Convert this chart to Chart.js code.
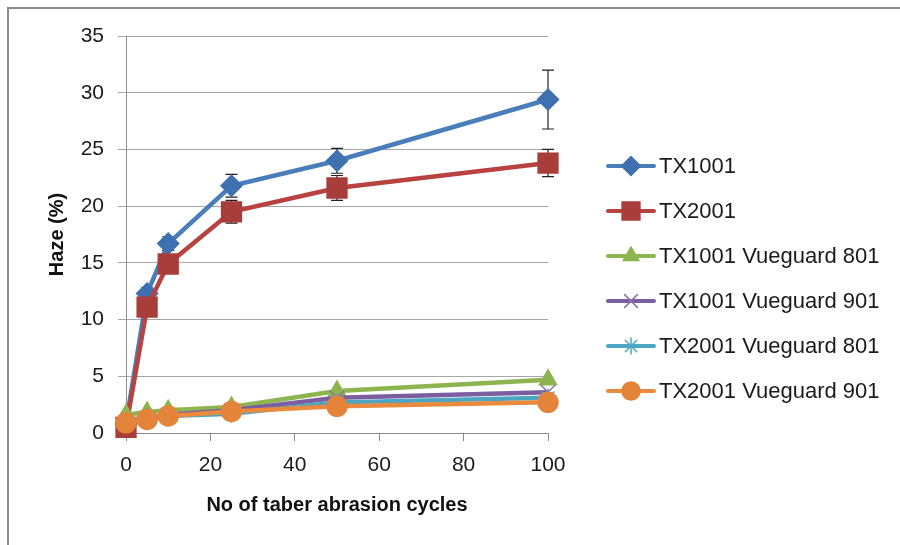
<!DOCTYPE html>
<html>
<head>
<meta charset="utf-8">
<script src="https://cdn.jsdelivr.net/npm/chart.js@4"></script>
<style>
  html, body { margin: 0; padding: 0; background: #fff; }
  #wrap { width: 900px; height: 545px; position: relative; }
</style>
</head>
<body>
<div id="wrap"><canvas id="hazeChart"></canvas></div>
<script>
// abrasion cycles
const cycles = [0, 5, 10, 25, 50, 100];

// haze (%) per sample
const tx1001 = [0.8, 12.3, 16.7, 21.8, 24.0, 29.4];
const tx2001 = [0.5, 11.1, 14.9, 19.5, 21.6, 23.8];
const tx1001v801 = [1.6, 1.85, 2.0, 2.3, 3.7, 4.7];
const tx1001v901 = [0.8, 1.3, 1.6, 2.0, 3.1, 3.6];
const tx2001v801 = [1.0, 1.4, 1.5, 1.7, 2.7, 3.1];
const tx2001v901 = [0.9, 1.2, 1.5, 1.9, 2.35, 2.7];

// standard deviation (error bars)
const tx1001Err = [0, 0.5, 0.6, 1.0, 1.1, 2.6];
const tx2001Err = [0, 0.4, 0.5, 1.0, 1.1, 1.2];

const yTicks = [0, 5, 10, 15, 20, 25, 30, 35];
const xTicks = [0, 20, 40, 60, 80, 100];

const FONT = "'Liberation Sans', Arial, sans-serif";

function pts(arr) {
  return cycles.map((c, i) => ({ x: c, y: arr[i] }));
}

const series = [
  { label: "TX1001", data: tx1001, color: "#4a7ebb", marker: "#3f71b0", style: "rectRot", r: 10.5, err: tx1001Err },
  { label: "TX2001", data: tx2001, color: "#b8423f", marker: "#a83d3a", style: "rect", r: 14, err: tx2001Err },
  { label: "TX1001 Vueguard 801", data: tx1001v801, color: "#8db54f", marker: "#8db54f", style: "triangle", r: 10 },
  { label: "TX1001 Vueguard 901", data: tx1001v901, color: "#7b5ea0", marker: "#8a72aa", style: "crossRot", r: 10 },
  { label: "TX2001 Vueguard 801", data: tx2001v801, color: "#4aa6c2", marker: "#4aa6c2", style: "star", r: 9 },
  { label: "TX2001 Vueguard 901", data: tx2001v901, color: "#ea8a3c", marker: "#e4843a", style: "circle", r: 10 }
];

// error bars, drawn under the markers
const errorBars = {
  id: "errorBars",
  beforeDatasetsDraw(chart) {
    const ctx = chart.ctx;
    const xs = chart.scales.x, ys = chart.scales.y;
    ctx.save();
    ctx.strokeStyle = "#222";
    ctx.lineWidth = 1.2;
    series.forEach(s => {
      if (!s.err) return;
      s.data.forEach((v, i) => {
        const e = s.err[i];
        if (!e) return;
        const px = xs.getPixelForValue(cycles[i]);
        const top = ys.getPixelForValue(v + e);
        const bot = ys.getPixelForValue(v - e);
        ctx.beginPath();
        ctx.moveTo(px, top); ctx.lineTo(px, bot);
        ctx.moveTo(px - 6, top); ctx.lineTo(px + 6, top);
        ctx.moveTo(px - 6, bot); ctx.lineTo(px + 6, bot);
        ctx.stroke();
      });
    });
    ctx.restore();
  }
};

// legend with line + marker, plus outer frame
const sideLegend = {
  id: "sideLegend",
  afterDraw(chart) {
    const ctx = chart.ctx;
    ctx.save();
    ctx.strokeStyle = "#8a8a8a";
    ctx.lineWidth = 2;
    ctx.beginPath();
    ctx.moveTo(8, 545); ctx.lineTo(8, 8); ctx.lineTo(900, 8);
    ctx.stroke();

    series.forEach((s, i) => {
      const y = 166 + i * 45;
      ctx.strokeStyle = s.color;
      ctx.lineWidth = 4;
      ctx.lineCap = "round";
      ctx.beginPath();
      ctx.moveTo(608, y); ctx.lineTo(654, y);
      ctx.stroke();
      ctx.fillStyle = s.marker;
      ctx.strokeStyle = s.marker;
      ctx.lineWidth = 1.5;
      Chart.helpers.drawPoint(ctx, { pointStyle: s.style, radius: s.r * 0.9, rotation: 0, borderWidth: 1.5 }, 631, y);
      ctx.fillStyle = "#1a1a1a";
      ctx.font = "22px " + FONT;
      ctx.textBaseline = "middle";
      ctx.textAlign = "left";
      ctx.fillText(s.label, 659, y + 1);
    });
    ctx.restore();
  }
};

new Chart(document.getElementById("hazeChart"), {
  type: "line",
  data: {
    datasets: series.map((s, i) => ({
      label: s.label,
      data: pts(s.data),
      borderColor: s.color,
      backgroundColor: s.marker,
      pointBackgroundColor: s.marker,
      pointBorderColor: s.marker,
      pointBorderWidth: 1.5,
      pointStyle: s.style,
      pointRadius: s.r,
      pointHoverRadius: s.r,
      borderWidth: 4.5,
      tension: 0,
      fill: false,
      clip: false,
      order: series.length - i
    }))
  },
  options: {
    responsive: true,
    maintainAspectRatio: false,
    animation: false,
    layout: { padding: { left: 45, top: 36, right: 352, bottom: 28 } },
    plugins: {
      legend: { display: false },
      tooltip: { enabled: false }
    },
    scales: {
      x: {
        type: "linear",
        min: 0,
        max: 100,
        afterFit(scale) { scale.height = 84; },
        afterBuildTicks(scale) { scale.ticks = xTicks.map(v => ({ value: v })); },
        border: { color: "#8c8c8c", width: 1 },
        grid: { drawOnChartArea: false, color: "#8c8c8c", tickLength: 8 },
        ticks: { color: "#1a1a1a", padding: 12, font: { family: FONT, size: 21 } },
        title: {
          display: true,
          text: "No of taber abrasion cycles",
          color: "#111",
          padding: { top: 0, bottom: 0 },
          font: { family: FONT, size: 20, weight: "bold" }
        }
      },
      y: {
        min: 0,
        max: 35,
        afterFit(scale) { scale.width = 81; },
        afterBuildTicks(scale) { scale.ticks = yTicks.map(v => ({ value: v })); },
        border: { color: "#8c8c8c", width: 1 },
        grid: { color: "#a6a6a6", tickLength: 8 },
        ticks: { color: "#1a1a1a", padding: 14, font: { family: FONT, size: 21 } },
        title: {
          display: true,
          text: "Haze (%)",
          color: "#111",
          padding: { top: 0, bottom: 0 },
          font: { family: FONT, size: 20, weight: "bold" }
        }
      }
    }
  },
  plugins: [errorBars, sideLegend]
});
</script>
</body>
</html>
